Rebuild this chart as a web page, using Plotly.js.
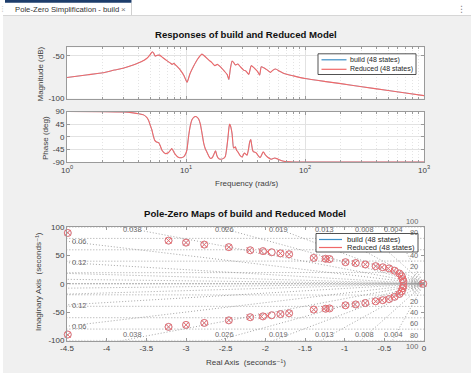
<!DOCTYPE html>
<html><head><meta charset="utf-8">
<script src="https://cdn.plot.ly/plotly-3.0.1.min.js"></script>
<style>html,body{margin:0;padding:0;background:#fff;}#chart{width:474px;height:379px;}</style>
</head><body><div id="chart"></div>
<script>
// ---------- Bode data ----------
const freqMag = [1, 1.5, 2, 2.5, 3, 3.6, 4.2, 4.7, 5.0, 5.2, 5.35, 5.5, 5.75, 6.0, 6.4, 6.9, 7.4, 7.65, 7.9, 8.3, 9.0, 9.6, 10.2, 10.8, 11.6, 12.5, 13.6, 14.3, 15.5, 16.5, 17.5, 18.3, 19.5, 21, 22.2, 22.9, 23.6, 24.4, 25.2, 26, 27.3, 28.5, 30.5, 32, 33.7, 35.3, 37, 38.2, 40, 41.6, 42.9, 45, 48.3, 51.3, 53.5, 56.6, 61, 66.5, 80, 100, 150, 200, 300, 500, 700, 1000];
const magBuildDb = [-75.4, -72.2, -69.9, -66.7, -64.3, -60.7, -57.0, -52.8, -48.5, -45.2, -46.8, -50.3, -49.4, -49.2, -52.2, -55.6, -58.6, -60.0, -58.8, -61.6, -67.0, -73.0, -81.0, -71.0, -62.0, -54.0, -48.0, -50.2, -54.8, -58.0, -61.5, -60.0, -63.0, -68.0, -72.0, -77.8, -65.0, -56.0, -58.0, -60.7, -59.5, -62.5, -66.7, -68.0, -71.8, -61.5, -63.5, -65.5, -68.5, -72.6, -62.7, -64.0, -66.7, -69.4, -67.0, -65.5, -68.0, -70.6, -73.5, -76.6, -80.2, -82.6, -86.2, -90.6, -93.5, -96.6];
const magReducedDb = magBuildDb.slice();

const freqPhase = [1, 2, 3, 3.6, 4.0, 4.4, 4.7, 4.85, 5.0, 5.17, 5.3, 5.45, 5.6, 5.88, 6.05, 6.28, 6.7, 7.1, 7.4, 7.6, 7.85, 8.1, 8.6, 9.1, 9.6, 10.0, 10.2, 10.5, 10.85, 11.2, 11.6, 12.0, 12.4, 12.8, 13.2, 13.6, 14.1, 14.5, 15, 15.5, 16, 16.6, 17.1, 17.7, 18.2, 18.8, 19.4, 20.5, 21.4, 22.0, 22.5, 23.0, 23.3, 23.8, 24.4, 25.1, 25.6, 26.0, 26.6, 27.3, 28.5, 29.7, 30.5, 31, 31.8, 32.6, 33.5, 34.3, 35.0, 35.6, 36.3, 37, 38, 39, 40.5, 42, 43.4, 44.6, 46.5, 48.3, 52, 55.6, 58, 60, 66.5, 80, 100, 1000];
const phaseBuildDeg = [90, 89.5, 88, 85, 82, 78, 68, 58, 42, 24, 5, -12, -18, -21, -30, -48, -60, -57, -48, -42, -52, -62, -73, -75, -71, -58, -45, 0, 38, 60, 69, 72, 70, 62, 45, 15, -24, -42, -55, -68, -77, -75, -64, -50, -68, -78, -80, -78, -70, -40, -5, 35, 45, 35, 10, -40, -38, -36, -48, -54, -67, -72, -62, -58, -62, -66, -45, -18, -10, -28, -48, -54, -55, -58, -68, -74, -63, -54, -65, -72, -80, -76, -78, -81, -87.6, -90, -90, -90];
const phaseReducedDeg = phaseBuildDeg.slice();

// ---------- Pole-zero data ----------
const polesRe = [-4.49, -3.22, -3.00, -2.77, -2.46, -2.20, -2.05, -1.97, -1.81, -1.70, -1.39, -1.26, -1.21, -0.99, -0.87, -0.74, -0.61, -0.53, -0.45, -0.38, -0.32, -0.29, -0.27,
                 -4.49, -3.22, -3.00, -2.77, -2.46, -2.20, -2.05, -1.97, -1.81, -1.70, -1.39, -1.26, -1.21, -0.99, -0.87, -0.74, -0.61, -0.53, -0.45, -0.38, -0.32, -0.29, -0.27,
                 -0.01, -0.02];
const polesIm = [90, 76, 72.5, 69, 64.5, 59, 57.5, 56.5, 53.5, 52, 45.5, 44, 43.5, 38, 36.5, 34, 31, 29, 27, 23, 18, 13, 8,
                 -90, -76, -72.5, -69, -64.5, -59, -57.5, -56.5, -53.5, -52, -45.5, -44, -43.5, -38, -36.5, -34, -31, -29, -27, -23, -18, -13, -8,
                 0, 0];
const zerosRe = [-4.49, -3.22, -3.00, -2.77, -2.46, -2.19, -2.03, -1.92, -1.81, -1.70, -1.39, -1.24, -1.19, -0.99, -0.86, -0.74, -0.61, -0.52, -0.44, -0.37, -0.31, -0.28, -0.27, -0.26,
                 -4.49, -3.22, -3.00, -2.77, -2.46, -2.19, -2.03, -1.92, -1.81, -1.70, -1.39, -1.24, -1.19, -0.99, -0.86, -0.74, -0.61, -0.52, -0.44, -0.37, -0.31, -0.28, -0.27, -0.26,
                 -0.01];
const zerosIm = [89.5, 76, 72.5, 69, 64.5, 59, 57.5, 55.5, 53.5, 52, 45.5, 44, 43.5, 38, 36.5, 34, 31, 29, 27, 23, 18, 13, 8, 4,
                 -89.5, -76, -72.5, -69, -64.5, -59, -57.5, -55.5, -53.5, -52, -45.5, -44, -43.5, -38, -36.5, -34, -31, -29, -27, -23, -18, -13, -8, -4,
                 0];

// ---------- Tick labels / grid values ----------
const freqTickVals = [1, 10, 100, 1000];
const freqTickText = ['10<sup>0</sup>', '10<sup>1</sup>', '10<sup>2</sup>', '10<sup>3</sup>'];
const magTickVals = [-100, -50];
const magTickText = ['-100', '-50'];
const phaseTickVals = [-90, -45, 0, 45, 90];
const phaseTickText = ['-90', '-45', '0', '45', '90'];
const reTickVals = [-4.5, -4, -3.5, -3, -2.5, -2, -1.5, -1, -0.5, 0];
const reTickText = ['-4.5', '-4', '-3.5', '-3', '-2.5', '-2', '-1.5', '-1', '-0.5', '0'];
const imTickVals = [-100, -50, 0, 50, 100];
const imTickText = ['-100', '-50', '0', '50', '100'];
const dampingRatios = [0.038, 0.026, 0.019, 0.013, 0.008, 0.004, 0.06, 0.12, 0.24, 0.5, 1];
const dampingTopLabels = ['0.038', '0.026', '0.019', '0.013', '0.008', '0.004'];
const dampingSideLabels = ['0.06', '0.12'];
const naturalFreqs = [20, 40, 60, 80, 100];
const naturalFreqLabelsUpper = ['20', '40', '80', '100'];
const naturalFreqLabelsLower = ['20', '40', '60', '80', '100'];

// ---------- helpers ----------
const W = 474, H = 379;
const X = v => v / W;
const Y = v => 1 - v / H;
const RED = '#f06868', BLUE = '#3b8ec6', GRIDC = '#8e8e8e', TXT = '#404040', LBL = '#6a6a6a';
const FONT = 'Liberation Sans, Arial, DejaVu Sans, sans-serif';
const DOT = '1px,2px';

const traces = [];
const lineStyle = (c, w) => ({color: c, width: w, shape: 'spline', smoothing: 0.5});
traces.push({x: freqMag, y: magBuildDb, xaxis: 'x', yaxis: 'y', mode: 'lines', name: 'build (48 states)', line: lineStyle(BLUE, 0.5), showlegend: false});
traces.push({x: freqMag, y: magReducedDb, xaxis: 'x', yaxis: 'y', mode: 'lines', name: 'Reduced (48 states)', line: lineStyle(RED, 1.1), showlegend: false});
traces.push({x: freqPhase, y: phaseBuildDeg, xaxis: 'x2', yaxis: 'y2', mode: 'lines', name: 'build (48 states)', line: lineStyle(BLUE, 0.5), showlegend: false});
traces.push({x: freqPhase, y: phaseReducedDeg, xaxis: 'x2', yaxis: 'y2', mode: 'lines', name: 'Reduced (48 states)', line: lineStyle(RED, 1.1), showlegend: false});

// s-plane grid: damping rays
const gridLine = {color: GRIDC, width: 0.8, dash: DOT};
dampingRatios.forEach(z => {
  const wd = Math.sqrt(1 - z * z), L = 400;
  traces.push({x: [-L * z, 0, -L * z], y: [L * wd, 0, -L * wd], xaxis: 'x3', yaxis: 'y3', mode: 'lines', line: gridLine, hoverinfo: 'skip', showlegend: false});
});
// natural frequency circles
naturalFreqs.forEach(wn => {
  const xs = [], ys = [];
  for (let i = 0; i <= 20; i++) { const xv = -5 + i * 0.25; xs.push(xv); ys.push(Math.sqrt(wn * wn - xv * xv)); }
  xs.push(null); ys.push(null);
  for (let i = 0; i <= 20; i++) { const xv = -5 + i * 0.25; xs.push(xv); ys.push(-Math.sqrt(wn * wn - xv * xv)); }
  traces.push({x: xs, y: ys, xaxis: 'x3', yaxis: 'y3', mode: 'lines', line: gridLine, hoverinfo: 'skip', showlegend: false});
});
// small arcs near the origin
[0.063, 0.092, 0.126, 0.16].forEach(a => {
  const xs = [], ys = [];
  for (let i = 0; i <= 20; i++) { const t = (-55 + i * 5.5) * Math.PI / 180; xs.push(-a * Math.cos(t)); ys.push(a * 140 * Math.sin(t)); }
  traces.push({x: xs, y: ys, xaxis: 'x3', yaxis: 'y3', mode: 'lines', line: {color: '#a5a5a5', width: 0.7}, hoverinfo: 'skip', showlegend: false});
});

const mk = (c, sym, sz, w) => ({symbol: sym, size: sz, color: c, line: {color: c, width: w}});
traces.push({x: polesRe, y: polesIm, xaxis: 'x3', yaxis: 'y3', mode: 'markers', name: 'build (48 states)', marker: mk(BLUE, 'x-thin-open', 5.5, 0.4), cliponaxis: false, showlegend: false});
traces.push({x: zerosRe, y: zerosIm, xaxis: 'x3', yaxis: 'y3', mode: 'markers', name: 'build (48 states)', marker: mk(BLUE, 'circle-open', 7, 0.4), cliponaxis: false, showlegend: false});
traces.push({x: polesRe, y: polesIm, xaxis: 'x3', yaxis: 'y3', mode: 'markers', name: 'Reduced (48 states)', marker: mk(RED, 'x-thin-open', 5.5, 0.9), cliponaxis: false, showlegend: false});
traces.push({x: zerosRe, y: zerosIm, xaxis: 'x3', yaxis: 'y3', mode: 'markers', name: 'Reduced (48 states)', marker: mk(RED, 'circle-open', 7, 0.9), cliponaxis: false, showlegend: false});

const axBase = {
  showline: true, mirror: 'ticks', linecolor: '#9a9a9a', linewidth: 1,
  ticks: 'inside', ticklen: 3, tickcolor: '#9a9a9a', zeroline: false,
  tickfont: {family: FONT, size: 8, color: TXT}, fixedrange: true
};
const logX = (dom, anchor, labels) => Object.assign({}, axBase, {
  type: 'log', range: [0, 3], domain: dom, anchor: anchor,
  tickmode: 'array', tickvals: freqTickVals, ticktext: freqTickText, showticklabels: labels,
  showgrid: true, gridcolor: '#e2e2e2', gridwidth: 1,
  minor: {dtick: 'D1', showgrid: true, gridcolor: '#e4e4e4', griddash: DOT, ticks: 'inside', ticklen: 2, tickcolor: '#9a9a9a'}
});
const xdom = [X(67), X(424)];

const annotations = [];
const ann = (text, x, y, o) => annotations.push(Object.assign({text: text, x: X(x), y: Y(y), xref: 'paper', yref: 'paper', xanchor: 'center', yanchor: 'middle', showarrow: false, font: {family: FONT, size: 8, color: TXT}}, o || {}));
const annD = (text, x, y, o) => annotations.push(Object.assign({text: text, x: x, y: y, xref: 'x3', yref: 'y3', xanchor: 'center', yanchor: 'middle', showarrow: false, borderpad: 0, font: {family: FONT, size: 7.4, color: LBL}}, o || {}));
// titles & axis labels
ann('Responses of build and Reduced Model', 246, 34.3, {font: {family: FONT, size: 9.6, color: '#111', weight: 'bold'}});
ann('Pole-Zero Maps of build and Reduced Model', 245, 213.3, {font: {family: FONT, size: 9.6, color: '#111', weight: 'bold'}});
ann('Magnitude (dB)', 40.5, 74, {textangle: -90});
ann('Phase (deg)', 45, 138, {textangle: -90});
ann('Frequency (rad/s)', 246, 183);
ann('Imaginary Axis  (seconds⁻¹)', 38, 282, {textangle: -90});
ann('Real Axis  (seconds⁻¹)', 246, 362);
// tab bar text
ann('Pole-Zero Simplification - build', 12.5, 9, {xanchor: 'left', font: {family: FONT, size: 7.7, color: '#333'}});
ann('×', 123.5, 9, {font: {family: FONT, size: 8, color: '#777'}});
ann('⋮', 461, 9, {font: {family: 'DejaVu Sans', size: 9, color: '#888'}});
ann('⋮', 2.5, 9, {font: {family: 'DejaVu Sans', size: 7, color: '#aaa'}});

// damping-ratio labels
const dTopX = [-3.68, -2.51, -1.83, -1.26, -0.75, -0.38];
dampingTopLabels.forEach((t, i) => { annD(t, dTopX[i], 95.5); annD(t, dTopX[i], -89.4); });
const dSideY = [74.5, 37.5];
dampingSideLabels.forEach((t, i) => {
  annD(t, -4.445, dSideY[i], {xanchor: 'left'});
  annD(t, -4.445, -dSideY[i], {xanchor: 'left'});
});
// natural-frequency labels
naturalFreqLabelsUpper.forEach(t => annD(t, 0, +t, {xanchor: 'right', xshift: -5, yshift: 6}));
naturalFreqLabelsLower.forEach(t => annD(t, 0, -t, {xanchor: 'right', xshift: -5, yshift: -6}));

// legends (drawn manually to match compact MATLAB legend)
const shapes = [];
const rectP = (x0, y0, x1, y1, fill, line, layer) => shapes.push({type: 'rect', xref: 'paper', yref: 'paper', x0: X(x0), x1: X(x1), y0: Y(y1), y1: Y(y0), fillcolor: fill, line: line || {width: 0}, layer: layer || 'below'});
const lineP = (x0, y0, x1, y1, color, w, layer) => shapes.push({type: 'line', xref: 'paper', yref: 'paper', x0: X(x0), x1: X(x1), y0: Y(y0), y1: Y(y1), line: {color: color, width: w}, layer: layer || 'below'});

// page chrome
rectP(0, 0, 474, 15.5, '#ffffff');
rectP(0, 373, 474, 379, '#ffffff');
rectP(0, 0, 3, 379, '#ffffff');
rectP(471, 0, 474, 379, '#ffffff');
rectP(5, 0, 131.5, 2.8, '#1d3d6b');
lineP(131.5, 3, 131.5, 15.5, '#d0d0d0', 1);
lineP(3, 15.5, 471, 15.5, '#d6d6d6', 1);

function legend(x0, y0, x1, y1, yA, yB, lx0, lx1, tx, fs) {
  rectP(x0, y0, x1, y1, '#ffffff', {color: '#262626', width: 0.8}, 'above');
  lineP(lx0, yA, lx1, yA, BLUE, 1.2, 'above');
  lineP(lx0, yB, lx1, yB, RED, 1.2, 'above');
  ann('build (48 states)', tx, yA, {xanchor: 'left', borderpad: 0, font: {family: FONT, size: fs, color: '#262626'}});
  ann('Reduced (48 states)', tx, yB, {xanchor: 'left', borderpad: 0, font: {family: FONT, size: fs, color: '#262626'}});
}
legend(318, 53.8, 416, 74.5, 59.8, 69.3, 321.5, 346.5, 349, 7);
legend(316, 233.5, 418, 252, 239.5, 247.5, 319, 342, 345.5, 7.5);

const layout = {
  width: W, height: H, margin: {l: 0, r: 0, t: 0, b: 0},
  paper_bgcolor: '#f0f0f0', plot_bgcolor: '#ffffff', showlegend: false,
  font: {family: FONT, size: 8, color: TXT},
  xaxis: logX(xdom, 'y', false),
  yaxis: Object.assign({}, axBase, {domain: [Y(98.5), Y(47.3)], range: [-100, -40], anchor: 'x', tickmode: 'array', tickvals: magTickVals, ticktext: magTickText, showgrid: true, gridcolor: '#e2e2e2'}),
  xaxis2: logX(xdom, 'y2', true),
  yaxis2: Object.assign({}, axBase, {domain: [Y(162), Y(111.5)], range: [-90, 90], anchor: 'x2', tickmode: 'array', tickvals: phaseTickVals, ticktext: phaseTickText, showgrid: true, gridcolor: '#e2e2e2'}),
  xaxis3: Object.assign({}, axBase, {domain: xdom, range: [-4.5, 0], anchor: 'y3', tickmode: 'array', tickvals: reTickVals, ticktext: reTickText, showgrid: false}),
  yaxis3: Object.assign({}, axBase, {domain: [Y(340.5), Y(227)], range: [-100, 100], anchor: 'x3', tickmode: 'array', tickvals: imTickVals, ticktext: imTickText, showgrid: false}),
  annotations: annotations, shapes: shapes
};
Plotly.newPlot('chart', traces, layout, {staticPlot: true, displayModeBar: false});
</script></body></html>
